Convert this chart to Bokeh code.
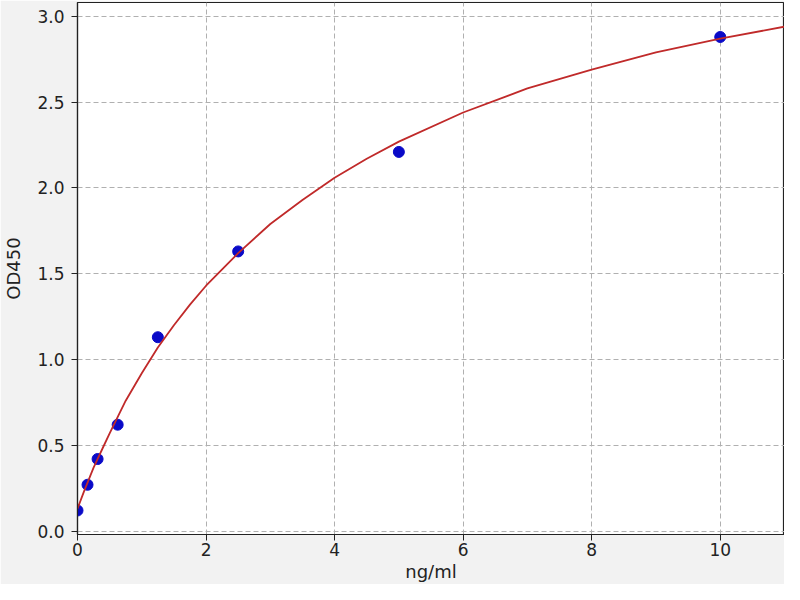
from bokeh.plotting import figure
from bokeh.models import Range1d, FixedTicker, CustomJSTickFormatter
from bokeh.embed import file_html
from bokeh.resources import INLINE

# standards (ng/ml) and measured OD450
conc = [0, 0.156, 0.3125, 0.625, 1.25, 2.5, 5, 10]
od = [0.12, 0.27, 0.42, 0.62, 1.13, 1.63, 2.21, 2.88]

# fitted curve
curve_x = [0, 0.1, 0.25, 0.4, 0.5, 0.75, 1.0, 1.25, 1.5, 1.75, 2.0, 2.5, 3.0, 3.5, 4.0, 4.5, 5.0, 6.0, 7.0, 8.0, 9.0, 10.0, 11.0]
curve_y = [0.13, 0.23, 0.37, 0.49, 0.57, 0.76, 0.92, 1.07, 1.20, 1.32, 1.43, 1.62, 1.79, 1.93, 2.06, 2.17, 2.27, 2.44, 2.58, 2.69, 2.79, 2.87, 2.94]

x_ticks = [0, 2, 4, 6, 8, 10]
y_ticks = [0.0, 0.5, 1.0, 1.5, 2.0, 2.5, 3.0]

p = figure(width=784, height=584, output_backend="svg", toolbar_location=None,
           x_range=Range1d(0, 11), y_range=Range1d(-0.02, 3.081),
           x_axis_label="ng/ml", y_axis_label="OD450",
           min_border_left=76, min_border_right=0, min_border_top=2, min_border_bottom=45)

p.background_fill_color = "white"
p.border_fill_color = "#f2f2f2"
p.outline_line_color = "#222222"
p.outline_line_width = 1.2

p.xaxis.ticker = FixedTicker(ticks=x_ticks)
p.yaxis.ticker = FixedTicker(ticks=y_ticks)
p.yaxis.formatter = CustomJSTickFormatter(code="return tick.toFixed(1);")

for ax in [p.xaxis[0], p.yaxis[0]]:
    ax.axis_line_color = "#222222"
    ax.axis_line_width = 1.2
    ax.major_tick_line_color = "#222222"
    ax.major_tick_out = 6
    ax.major_tick_in = 0
    ax.minor_tick_line_color = None
    ax.major_label_text_font = "DejaVu Sans"
    ax.major_label_text_font_size = "17px"
    ax.major_label_text_color = "#222222"
    ax.axis_label_text_font = "DejaVu Sans"
    ax.axis_label_text_font_size = "18px"
    ax.axis_label_text_font_style = "normal"
    ax.axis_label_text_color = "#222222"

p.xaxis.major_label_standoff = 2
p.xaxis.axis_label_standoff = 2
p.yaxis.major_label_standoff = 7
p.yaxis.axis_label_standoff = 10

p.grid.grid_line_color = "#b0b0b0"
p.grid.grid_line_dash = "5 3"
p.grid.grid_line_width = 1

p.scatter(conc, od, size=11, fill_color="#0a0ac8", line_color="#0a0ac8")
p.line(curve_x, curve_y, line_color="#c02a2a", line_width=1.8)

open("out.html", "w").write(file_html(p, INLINE))
